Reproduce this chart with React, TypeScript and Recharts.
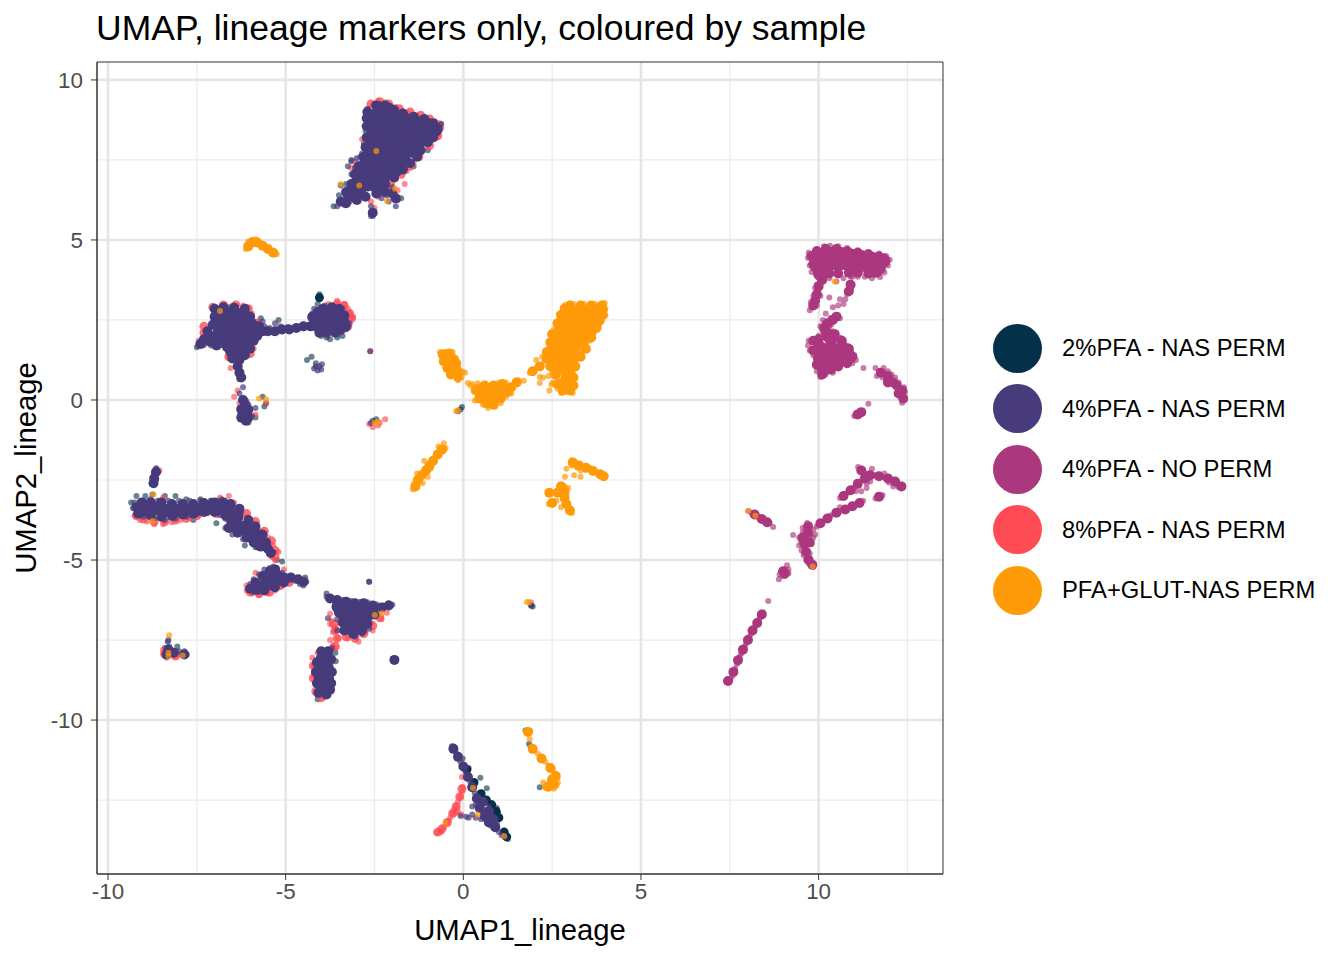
import { ScatterChart, Scatter, XAxis, YAxis, CartesianGrid, ReferenceArea } from 'recharts';

type Pt = [number, number];

const sampleNames = ['2%PFA - NAS PERM', '4%PFA - NAS PERM', '4%PFA - NO PERM', '8%PFA - NAS PERM', 'PFA+GLUT-NAS PERM'];
const xTicks = [-10, -5, 0, 5, 10];
const yTicks = [-10, -5, 0, 5, 10];
const xMinor = [-7.5, -2.5, 2.5, 7.5, 12.5];
const yMinor = [-12.5, -7.5, -2.5, 2.5, 7.5];

const COLORS = ['#05304a', '#473b7b', '#ab387e', '#ff4b53', '#ff9a08'];
const X_DOMAIN: [number, number] = [-10.31, 13.5];
const Y_DOMAIN: [number, number] = [-14.81, 10.56];

// 2% PFA: thin fringe of single cells
const pfa2Arms: Pt[] = [
  [0.1, -11.55], [0.3, -11.95], [0.5, -12.3], [0.65, -12.5], [0.8, -12.65], [0.92, -12.85], [1.0, -13.05], [1.15, -13.5], [1.22, -13.65], [-4.05, 3.2],
];
const pfa2Points: Pt[] = [
  [-3.65, 6.05], [-3.5, 6.4], [-3.3, 6.75], [-3.15, 7.05], [-3.0, 7.3], [-2.9, 7.6], [-2.8, 8.0], [-2.75, 8.4], [-2.7, 8.8], [-1.9, 9.15],
  [-3.45, 6.7], [-3.15, 7.45], [-1.75, 6.3], [-2.05, 6.45], [-2.6, 5.75], [-2.55, 5.9], [-1.4, 7.3], [-1.0, 7.8],
  [-4.05, 3.3], [-4.05, 3.15], [-4.1, 3.0], [-4.3, 2.55], [-4.35, 2.35], [-4.0, 2.0], [-3.75, 1.9], [-3.55, 1.95], [-3.4, 2.0], [-3.85, 1.95],
  [-4.4, 1.25], [-4.27, 1.35], [-4.15, 1.15], [-7.5, 1.65], [-7.35, 1.7], [-7.1, 1.7], [-5.7, 2.55], [-5.2, 2.5], [-6.05, -0.7], [-5.85, -0.55], [-5.6, -0.2], [-5.55, -0.1], [-5.65, 0.1],
  [-6.35, 0.85], [-6.3, 0.65], [-6.6, 2.9], [-6.0, 2.7], [-2.55, -0.65], [-2.45, -0.6],
  [-8.95, -3.0], [-8.75, -2.95], [-8.4, -3.0], [-8.1, -3.0], [-7.8, -3.1], [-7.4, -3.1], [-7.1, -3.15], [-6.9, -3.15], [-7.6, -3.75], [-6.95, -3.85], [-9.35, -3.2], [-9.2, -3.0],
  [-8.7, -2.65], [-6.15, -4.55], [-5.85, -4.6], [-5.6, -4.5], [-5.25, -5.0], [-5.1, -5.05], [-5.35, -5.2], [-4.45, -5.55], [-4.5, -5.8], [-4.75, -5.65],
  [-3.85, -6.05], [-3.75, -6.25], [-2.0, -6.4], [-2.1, -6.35], [-2.65, -5.68], [-3.6, -7.9], [-3.59, -8.16], [-3.75, -9.05], [-4.1, -9.35],
  [-1.92, -8.15], [-8.3, -7.5], [-8.05, -7.7], [-7.85, -7.85], [-8.4, -7.75],
  [0.48, -11.8], [0.55, -12.44], [0.66, -12.13], [0.8, -12.6], [0.7, -12.55], [0.8, -12.75], [0.94, -12.75], [0.98, -12.9], [0.85, -12.85], [0.94, -13.03], [0.15, -11.5], [-0.02, -11.2], [1.25, -13.72],
  [1.9, -6.42], [1.95, -6.45], [-0.04, -0.22], [-0.08, -0.3], [1.75, -10.33], [2.15, -12.1], [1.85, -10.75],
];

// 8% PFA: the red rim around the dense clusters and the lower-centre arm
const pfa8Arms: Pt[] = [
  [-2.6, 9.25], [-2.35, 9.32], [-2.1, 9.25], [-1.8, 9.1], [-1.5, 9.0], [-1.2, 8.9], [-0.95, 8.78], [-0.68, 8.6], [-0.72, 8.25], [-0.95, 7.95], [-1.25, 7.6], [-1.5, 7.3], [-1.75, 7.05], [-2.05, 6.75], [-2.3, 6.5],
  [-9.2, -3.62], [-9.0, -3.72], [-8.7, -3.8], [-8.4, -3.8], [-8.1, -3.75], [-7.8, -3.7], [-7.5, -3.62], [-6.1, -3.55], [-5.85, -3.8], [-5.6, -4.1], [-5.4, -4.4], [-5.3, -4.7], [-5.3, -4.9], [-6.0, -6.0], [-5.75, -6.05], [-5.45, -6.0], [-5.15, -5.8], [-4.9, -5.7],
  [-3.65, -7.0], [-3.6, -7.2], [-3.55, -7.45], [-3.6, -7.7], [-3.3, -7.4], [-3.05, -7.45], [-2.8, -7.3], [-2.55, -7.05], [-2.35, -6.8], [-4.22, -8.3], [-4.22, -8.7], [-4.15, -9.1], [-4.0, -9.3],
  [-7.05, 2.9], [-6.75, 2.97], [-6.4, 2.97], [-6.05, 2.85], [-5.85, 2.4], [-7.3, 2.1], [-7.3, 2.3], [-6.6, 1.35], [-6.0, 1.45], [-3.55, 3.0], [-3.35, 2.95], [-3.2, 2.7], [-3.15, 2.55], [-3.25, 2.3],
  [-0.04, -12.15], [-0.1, -12.4], [-0.2, -12.7], [-0.3, -12.92], [-0.45, -13.2], [-0.6, -13.4], [-0.72, -13.5], [-8.4, -7.9], [-8.1, -8.0],
];
const pfa8Points: Pt[] = [
  [-2.75, 9.0], [-2.55, 9.2], [-2.4, 9.35], [-2.2, 9.3], [-2.05, 9.15], [-1.8, 9.05], [-1.55, 8.95], [-1.3, 8.9], [-1.05, 8.8], [-0.8, 8.7], [-0.62, 8.5], [-0.75, 8.2], [-1.0, 7.95], [-1.2, 7.7], [-1.4, 7.4], [-1.6, 7.15], [-1.9, 6.9], [-2.15, 6.6], [-2.4, 6.35], [-2.6, 6.2], [-2.95, 6.2], [-3.2, 6.25], [-2.0, 6.5], [-1.85, 6.55],
  [-2.85, 8.15], [-3.05, 7.45], [-3.15, 7.25], [-2.5, 6.0], [-1.65, 6.75],
  [-7.0, 2.9], [-6.8, 2.95], [-6.5, 2.95], [-6.2, 2.95], [-5.95, 2.7], [-5.8, 2.45], [-5.6, 2.2], [-7.2, 2.2], [-7.3, 1.95], [-7.45, 1.85], [-6.9, 1.65], [-6.6, 1.35], [-6.15, 1.45], [-5.9, 1.6], [-6.55, 1.0], [-6.35, 0.3], [-6.45, 0.1], [-6.3, -0.1], [-5.55, -0.1], [-5.85, -0.45], [-5.2, 2.2], [-4.9, 2.2],
  [-3.8, 3.0], [-3.55, 3.1], [-3.35, 3.0], [-3.25, 2.85], [-3.2, 2.55], [-3.1, 2.6], [-3.3, 2.3], [-3.45, 2.1], [-4.3, 2.6], [-3.2, 2.75],
  [-8.65, -2.15], [-8.55, -2.2], [-8.45, -3.05], [-9.25, -3.6], [-9.1, -3.75], [-8.9, -3.8], [-8.7, -3.88], [-8.45, -3.88], [-8.2, -3.82], [-7.95, -3.75], [-7.7, -3.7], [-7.45, -3.6], [-7.2, -3.55], [-6.85, -3.05], [-6.6, -3.0], [-6.45, -3.2], [-6.3, -3.4], [-6.1, -3.65], [-5.9, -3.85], [-5.7, -4.1], [-5.5, -4.3], [-5.35, -4.55], [-5.2, -4.75], [-5.3, -5.0], [-5.4, -4.9], [-5.5, -4.7], [-5.7, -4.45], [-6.95, -3.6], [-6.7, -3.7], [-6.65, -3.95],
  [-6.1, -5.95], [-5.95, -6.05], [-5.75, -6.1], [-5.5, -6.05], [-5.3, -5.95], [-5.1, -5.8], [-4.9, -5.65], [-5.05, -5.3], [-6.1, -5.8], [-5.85, -5.4],
  [-3.7, -6.9], [-3.6, -7.1], [-3.67, -7.25], [-3.53, -7.44], [-3.67, -7.66], [-3.75, -7.5], [-3.6, -7.75], [-2.75, -7.25], [-2.95, -7.55], [-3.0, -7.35], [-3.25, -7.45], [-2.55, -7.2], [-2.3, -6.85], [-2.6, -6.95], [-2.15, -6.65], [-3.75, -6.68], [-3.75, -7.0],
  [-4.2, -8.3], [-4.22, -8.6], [-4.15, -8.9], [-4.1, -9.2], [-3.95, -9.3], [-4.25, -8.05], [-4.1, -7.9],
  [-8.45, -7.95], [-8.35, -8.05], [-8.1, -8.0], [-8.15, -7.85], [-7.95, -7.95], [-8.45, -7.8],
  [-2.65, -0.75], [-2.55, -0.85], [-2.4, -0.8], [-2.35, -0.7], [-2.2, -0.6], [-2.62, 1.52],
  [-0.04, -11.78], [-0.02, -12.1], [-0.04, -12.25], [-0.1, -12.4], [-0.15, -12.55], [-0.2, -12.7], [-0.27, -12.8], [-0.3, -12.92], [-0.37, -13.05], [-0.46, -13.22], [-0.55, -13.35], [-0.65, -13.45], [-0.75, -13.52], [-0.62, -13.5], [-0.15, -12.85], [-0.05, -12.95], [-0.2, -12.9], [-0.42, -13.15],
  [-0.28, -10.82], [1.88, -10.35], [1.9, -6.32],
];

// 4% PFA, no perm: dense centres, then the loose arms and the thin diagonal
const noPermCore: Pt[] = [
  [10.0, 4.5], [10.3, 4.55], [10.6, 4.55], [10.9, 4.5], [11.2, 4.45], [11.5, 4.4], [11.8, 4.35],
  [9.95, 4.2], [10.25, 4.2], [10.55, 4.25], [10.85, 4.25], [11.15, 4.2], [11.45, 4.15], [10.05, 3.95], [11.6, 4.05],
  [10.35, 1.95], [10.05, 1.6], [10.35, 1.6], [10.65, 1.6], [10.05, 1.3], [10.35, 1.3], [10.65, 1.3], [10.85, 1.35], [10.15, 1.0],
];
const noPermArms: Pt[] = [
  [9.8, 4.5], [9.85, 4.25], [9.95, 4.65], [10.2, 4.72], [10.5, 4.72], [10.8, 4.65], [11.1, 4.6], [11.4, 4.55], [11.7, 4.48], [11.88, 4.35], [11.75, 4.1], [11.4, 3.95], [11.1, 3.98], [10.85, 3.98], [10.55, 3.95], [10.3, 3.95], [10.1, 3.75],
  [10.0, 3.55], [9.95, 3.3], [9.9, 3.1], [9.85, 2.95], [10.9, 3.6], [10.85, 3.4],
  [10.4, 2.5], [10.25, 2.4], [10.15, 2.25], [10.25, 2.1], [10.5, 2.6],
  [9.85, 1.85], [9.85, 1.55], [10.0, 1.9], [10.2, 2.0], [10.45, 2.05], [10.65, 1.85], [10.85, 1.6], [10.95, 1.35], [10.8, 1.15], [10.55, 1.05], [10.35, 0.95], [10.1, 0.8], [9.95, 1.1],
  [11.75, 0.85], [11.95, 0.75], [12.1, 0.55], [12.2, 0.45], [12.35, 0.3], [12.38, 0.05], [11.95, 0.55], [12.25, 0.2], [11.1, -0.45], [11.2, -0.38],
  [7.45, -8.78], [7.6, -8.5], [7.73, -8.13], [7.87, -7.8], [8.01, -7.5], [8.14, -7.2], [8.27, -6.97], [8.4, -6.7],
  [9.0, -5.35], [9.05, -5.42],
  [9.55, -4.3], [9.7, -4.15], [9.7, -3.95], [9.6, -4.5], [9.75, -4.45], [9.65, -4.75], [9.72, -5.0], [9.82, -5.15],
  [10.05, -3.85], [10.25, -3.7], [10.5, -3.52], [10.75, -3.42], [10.95, -3.32], [11.15, -3.22],
  [10.7, -3.0], [10.9, -2.82], [11.1, -2.62], [11.3, -2.45], [11.2, -2.2], [11.45, -2.35], [11.7, -2.38], [11.95, -2.45], [12.15, -2.55], [12.33, -2.7], [11.7, -3.02],
  [8.2, -3.58], [8.4, -3.72], [8.55, -3.82],
];
const noPermPoints: Pt[] = [
  [9.7, 4.44], [9.72, 4.6], [9.75, 4.2], [9.8, 4.0], [9.95, 4.72], [10.15, 4.8], [10.32, 4.82], [10.55, 4.8], [10.8, 4.75], [11.1, 4.68], [11.4, 4.62], [11.7, 4.58], [11.9, 4.5], [12.0, 4.38], [11.95, 4.2], [11.85, 3.98], [11.73, 3.84], [11.5, 3.8], [11.3, 3.85], [11.1, 3.85], [10.9, 3.85], [10.7, 3.8], [10.5, 3.7], [10.3, 3.8], [10.85, 3.65], [10.9, 3.45], [10.8, 3.3], [10.75, 3.15], [10.7, 3.0], [10.6, 3.15], [10.55, 2.95], [10.4, 2.9], [10.3, 3.2],
  [10.15, 3.85], [10.05, 3.7], [9.95, 3.6], [9.98, 3.4], [9.9, 3.5], [9.85, 3.25], [9.9, 3.1], [9.78, 3.05], [9.8, 2.9], [9.75, 2.8], [9.95, 2.95], [10.05, 3.25],
  [10.33, 2.56], [10.18, 2.41], [10.45, 2.62], [10.55, 2.65], [10.6, 2.55], [10.4, 2.45], [10.3, 2.3], [10.12, 2.15], [10.2, 2.15], [10.35, 2.35], [10.05, 2.3], [10.25, 2.0], [10.12, 2.5], [10.2, 2.7],
  [9.72, 1.85], [9.7, 1.7], [9.75, 1.55], [9.85, 1.4], [9.85, 1.9], [10.0, 2.0], [10.15, 2.1], [10.4, 2.15], [10.5, 2.1], [10.6, 1.95], [10.7, 1.85], [10.8, 1.7], [10.9, 1.55], [11.0, 1.4], [11.05, 1.25], [10.95, 1.15], [10.8, 1.1], [10.6, 1.05], [10.4, 0.85], [10.2, 0.8], [10.05, 0.72], [9.95, 0.9], [9.9, 1.1],
  [11.26, 1.0], [11.6, 1.0], [11.64, 0.75], [11.7, 0.9], [11.83, 1.0], [11.9, 0.65], [11.95, 0.9], [12.05, 0.8], [12.05, 0.55], [12.15, 0.7], [12.15, 0.45], [12.25, 0.55], [12.3, 0.35], [12.4, 0.4], [12.43, 0.25], [12.38, 0.1], [12.35, -0.09], [12.42, 0.0], [11.8, 0.7], [11.75, 0.85],
  [11.08, -0.47], [11.15, -0.42], [11.23, -0.37], [11.0, -0.5], [11.4, -0.12], [10.95, 3.85],
  [7.42, -8.81], [7.47, -8.78], [7.52, -8.72], [7.57, -8.62], [7.6, -8.5], [7.65, -8.4], [7.7, -8.25], [7.73, -8.13], [7.78, -8.02], [7.82, -7.92], [7.87, -7.8], [7.92, -7.7], [7.96, -7.6], [8.01, -7.5], [8.05, -7.4], [8.1, -7.3], [8.14, -7.2], [8.2, -7.1], [8.27, -6.97], [8.3, -6.88], [8.35, -6.8], [8.4, -6.7], [8.44, -6.63], [8.58, -6.28],
  [8.9, -5.45], [8.98, -5.5], [9.0, -5.41], [9.05, -5.3], [9.11, -5.16], [9.15, -5.3], [9.15, -5.42], [9.05, -5.5], [8.88, -5.6],
  [9.28, -4.22], [9.45, -4.55], [9.52, -4.7], [9.58, -4.85], [9.65, -5.0], [9.72, -5.1], [9.82, -5.16], [9.85, -5.22], [9.6, -4.6], [9.75, -4.8], [9.5, -4.4], [9.62, -4.47], [9.8, -4.5], [9.85, -4.3], [9.7, -4.06], [9.85, -4.05], [9.55, -4.15], [9.6, -4.3], [9.75, -4.25], [9.9, -4.2], [9.45, -4.3], [9.68, -3.84], [9.75, -3.9], [9.65, -4.0], [9.55, -4.0],
  [9.95, -3.95], [10.0, -3.9], [10.1, -3.81], [10.2, -3.72], [10.3, -3.65], [10.46, -3.53], [10.55, -3.48], [10.65, -3.45], [10.75, -3.4], [10.83, -3.38], [10.93, -3.32], [11.03, -3.28], [11.17, -3.22], [11.25, -3.15], [10.6, -3.35], [10.35, -3.6],
  [10.6, -3.06], [10.72, -2.95], [10.82, -2.9], [10.94, -2.81], [11.02, -2.72], [11.12, -2.62], [11.23, -2.5], [11.3, -2.4], [11.05, -2.85], [11.35, -2.6], [11.4, -2.45], [11.45, -2.55], [11.11, -2.09], [11.2, -2.15], [11.25, -2.25], [11.35, -2.3], [11.5, -2.35], [11.6, -2.34], [11.75, -2.4], [11.9, -2.45], [12.07, -2.5], [12.2, -2.58], [12.3, -2.65], [12.38, -2.72], [12.25, -2.72], [12.1, -2.7], [11.98, -2.58], [11.5, -2.15], [11.35, -2.75], [11.2, -2.85], [11.85, -2.3], [11.68, -3.03], [11.6, -3.08], [11.8, -2.98],
  [8.02, -3.47], [8.1, -3.52], [8.18, -3.58], [8.27, -3.65], [8.35, -3.7], [8.45, -3.75], [8.55, -3.81], [8.62, -3.85], [8.72, -3.97],
];

// 4% PFA, NAS perm: dense centres first, single cells after
const pfa4Core: Pt[] = [
  [-2.35, 9.1], [-2.1, 9.05],
  [-2.55, 8.85], [-2.25, 8.85], [-1.95, 8.8], [-1.65, 8.75], [-1.35, 8.65], [-1.05, 8.6],
  [-2.55, 8.55], [-2.25, 8.55], [-1.95, 8.5], [-1.65, 8.45], [-1.35, 8.4], [-1.05, 8.35], [-0.8, 8.45],
  [-2.55, 8.25], [-2.25, 8.25], [-1.95, 8.2], [-1.65, 8.15], [-1.35, 8.1], [-1.15, 8.15],
  [-2.55, 7.95], [-2.25, 7.95], [-1.95, 7.9], [-1.65, 7.85], [-1.45, 7.8],
  [-2.55, 7.65], [-2.25, 7.65], [-1.95, 7.6], [-1.7, 7.5],
  [-2.75, 7.35], [-2.45, 7.35], [-2.15, 7.3], [-1.9, 7.2],
  [-2.85, 7.05], [-2.55, 7.05], [-2.25, 7.0],
  [-3.0, 6.75], [-2.7, 6.75], [-2.45, 6.7],
  [-3.2, 6.45], [-2.95, 6.5],
  [-6.75, 2.7], [-6.45, 2.7], [-6.2, 2.65],
  [-6.8, 2.4], [-6.5, 2.4], [-6.2, 2.4], [-6.0, 2.35],
  [-6.85, 2.1], [-6.55, 2.1], [-6.25, 2.1], [-5.95, 2.15],
  [-7.1, 1.9], [-6.75, 1.85], [-6.45, 1.8], [-6.15, 1.85],
  [-6.5, 1.55], [-6.3, 1.55],
  [-3.85, 2.7], [-3.6, 2.7], [-4.0, 2.45], [-3.7, 2.45], [-3.45, 2.45], [-4.0, 2.25], [-3.7, 2.25], [-3.5, 2.25],
  [-9.05, -3.42], [-8.75, -3.4], [-8.45, -3.45], [-8.15, -3.45], [-7.85, -3.42], [-7.55, -3.42], [-7.25, -3.38], [-6.95, -3.38], [-6.65, -3.4],
  [-6.4, -3.65], [-6.45, -3.9], [-6.15, -4.0], [-5.9, -4.2], [-5.7, -4.5],
  [-5.8, -5.85], [-5.5, -5.72], [-5.25, -5.55],
  [-3.5, -6.45], [-3.2, -6.5], [-2.9, -6.55], [-2.6, -6.55], [-3.3, -6.8], [-3.0, -6.85], [-2.75, -6.75], [-3.15, -7.1], [-2.95, -7.1],
  [-3.95, -8.1], [-4.0, -8.4], [-3.85, -8.4], [-4.0, -8.7], [-3.85, -8.7], [-3.95, -8.95],
  [-6.15, -0.45],
];
const pfa4Arms: Pt[] = [
  [-2.7, 9.0], [-2.45, 9.2], [-2.2, 9.2], [-1.95, 9.05], [-1.7, 8.95], [-1.4, 8.85], [-1.1, 8.78], [-0.85, 8.65], [-0.72, 8.45], [-0.85, 8.2], [-1.0, 8.05], [-1.2, 7.8], [-1.3, 7.6], [-1.5, 7.4], [-1.7, 7.2], [-1.95, 6.95], [-2.2, 6.75], [-2.45, 6.45], [-2.75, 6.35], [-3.0, 6.25], [-3.3, 6.15], [-3.45, 6.2], [-3.3, 6.5], [-3.15, 6.75], [-3.05, 7.05], [-2.95, 7.3], [-2.8, 7.6], [-2.75, 7.9], [-2.72, 8.2], [-2.72, 8.55], [-2.72, 8.8], [-2.0, 6.45], [-1.9, 6.3], [-2.2, 6.5], [-2.55, 5.85],
  [-7.0, 2.85], [-6.75, 2.9], [-6.45, 2.88], [-6.15, 2.85], [-6.0, 2.6], [-7.0, 2.6], [-7.05, 2.35], [-7.2, 2.15], [-7.3, 1.9], [-7.4, 1.75], [-5.75, 2.3], [-5.65, 2.15], [-5.8, 2.0], [-5.9, 1.85], [-6.0, 1.6], [-6.15, 1.4], [-6.3, 1.25], [-6.5, 1.3], [-6.65, 1.65], [-6.95, 1.7],
  [-5.5, 2.15], [-5.3, 2.15], [-5.1, 2.2], [-4.9, 2.2], [-4.7, 2.25], [-4.5, 2.3], [-4.3, 2.3],
  [-6.35, 1.05], [-6.3, 0.85], [-6.25, 0.7], [-6.2, 0.0], [-6.15, -0.15], [-6.25, -0.3], [-6.05, -0.3], [-6.25, -0.55], [-6.05, -0.55], [-6.12, -0.65],
  [-4.25, 2.6], [-4.2, 2.35], [-4.1, 2.75], [-3.95, 2.85], [-3.7, 2.9], [-3.5, 2.85], [-3.35, 2.65], [-3.35, 2.45], [-3.3, 2.3], [-3.6, 2.1], [-3.85, 2.1], [-4.05, 2.1],
  [-9.2, -3.35], [-9.15, -3.55], [-9.05, -3.2], [-8.8, -3.2], [-8.8, -3.6], [-8.5, -3.2], [-8.5, -3.65], [-8.2, -3.25], [-8.2, -3.62], [-7.9, -3.25], [-7.9, -3.58], [-7.6, -3.25], [-7.6, -3.55], [-7.3, -3.22], [-7.3, -3.5], [-7.0, -3.2], [-7.0, -3.5], [-6.75, -3.2], [-6.55, -3.25], [-6.3, -3.4], [-6.7, -3.6], [-6.55, -3.75], [-6.6, -4.0], [-6.35, -4.15], [-6.1, -4.3], [-6.05, -3.75], [-5.85, -3.95], [-5.65, -4.2], [-5.9, -4.45], [-5.55, -4.45], [-5.5, -4.65], [-5.42, -4.78],
  [-8.65, -2.25], [-8.7, -2.45], [-8.72, -2.6],
  [-6.0, -5.9], [-5.85, -5.7], [-5.65, -5.5], [-5.45, -5.35], [-5.3, -5.3], [-5.6, -5.95], [-5.3, -5.85], [-5.05, -5.55], [-5.05, -5.7], [-4.85, -5.55], [-4.65, -5.6], [-4.5, -5.68],
  [-3.75, -6.2], [-3.55, -6.25], [-3.3, -6.3], [-3.05, -6.35], [-2.8, -6.35], [-2.55, -6.42], [-2.3, -6.48], [-2.1, -6.42], [-3.5, -6.65], [-3.4, -6.95], [-3.35, -7.2], [-3.1, -7.3], [-2.85, -7.2], [-2.7, -7.0], [-2.5, -6.7],
  [-4.0, -7.85], [-3.8, -7.85], [-4.12, -8.2], [-3.72, -8.1], [-4.15, -8.5], [-3.7, -8.5], [-4.12, -8.85], [-3.72, -8.85], [-4.08, -9.15], [-3.85, -9.2], [-3.75, -9.05],
  [-1.94, -8.12], [-8.3, -7.8], [-8.35, -7.95], [-8.15, -7.9], [-7.85, -7.95],
  [-0.28, -10.9], [-0.15, -11.15], [0.0, -11.45], [0.13, -11.78], [0.25, -12.1], [0.38, -12.45], [0.46, -12.75], [0.6, -13.0], [0.72, -13.2], [0.9, -13.35], [0.55, -12.55], [0.72, -12.85], [0.85, -13.1],
];
const pfa4Points: Pt[] = [
  [-3.55, 6.05], [-3.45, 6.2], [-3.35, 6.1], [-3.2, 6.2], [-2.55, 5.75], [-2.55, 5.9], [-2.6, 6.05], [-2.3, 6.3], [-2.15, 6.4], [-2.1, 6.2], [-1.95, 6.35], [-1.85, 6.25], [-2.0, 6.65], [-1.9, 6.05], [-3.0, 7.55], [-3.15, 7.5], [-3.25, 7.3], [-2.85, 7.7], [-3.05, 7.25], [-2.7, 9.1], [-2.5, 9.25], [-0.62, 8.62], [-0.7, 8.55], [-0.95, 8.7], [-1.3, 8.8],
  [-7.45, 1.7], [-7.3, 1.72], [-7.2, 1.8], [-6.95, 1.7], [-7.3, 1.9], [-5.75, 2.2], [-5.6, 2.1], [-5.5, 2.15], [-5.35, 2.1], [-5.25, 2.2], [-5.1, 2.15], [-5.0, 2.2], [-4.85, 2.2], [-4.75, 2.25], [-4.6, 2.28], [-4.5, 2.3], [-4.4, 2.3], [-4.3, 2.35], [-5.45, 2.25], [-5.15, 2.3], [-4.95, 2.28], [-5.65, 2.45], [-5.6, 2.3], [-5.3, 2.4], [-4.2, 2.25], [-4.25, 2.45], [-4.25, 2.7], [-4.2, 2.85], [-3.2, 2.4], [-3.35, 2.65], [-3.4, 2.85], [-3.9, 2.95], [-3.3, 2.2],
  [-6.4, 1.25], [-6.35, 1.05], [-6.28, 0.9], [-6.3, 0.75], [-6.25, 0.7], [-6.2, 0.4], [-6.3, 0.2], [-6.2, 0.05], [-6.1, -0.05], [-6.05, -0.15], [-6.3, -0.25], [-6.25, -0.6], [-6.05, -0.62], [-6.1, -0.68], [-6.0, -0.3], [-5.95, -0.5], [-5.85, -0.25], [-4.2, 0.98], [-4.1, 0.92], [-4.0, 0.95], [-4.05, 1.05], [-3.98, 1.12], [-4.15, 1.05],
  [-8.64, -2.13], [-8.7, -2.3], [-8.72, -2.45], [-8.74, -2.6], [-8.6, -2.25], [-8.65, -2.5], [-9.3, -3.38], [-9.25, -3.2], [-9.2, -3.55], [-9.0, -3.15], [-8.8, -3.1], [-8.6, -3.15], [-8.3, -3.15], [-8.0, -3.15], [-7.7, -3.15], [-7.4, -3.15], [-7.1, -3.15], [-6.8, -3.1], [-6.55, -3.2], [-6.45, -3.35], [-6.25, -3.5], [-6.05, -3.75], [-5.85, -4.0], [-5.7, -4.15], [-6.7, -3.7], [-6.85, -3.6], [-6.7, -4.0], [-6.5, -4.2], [-6.2, -4.35], [-5.95, -4.45], [-5.55, -4.4], [-5.5, -4.6], [-5.45, -4.75], [-5.35, -4.75], [-7.1, -3.2], [-9.0, -3.65], [-8.7, -3.7], [-8.4, -3.75], [-8.1, -3.7], [-7.8, -3.65], [-7.5, -3.55],
  [-6.05, -5.92], [-6.0, -5.75], [-5.9, -5.6], [-5.75, -5.45], [-5.6, -5.3], [-5.45, -5.25], [-5.25, -5.25], [-5.1, -5.4], [-5.0, -5.5], [-4.85, -5.55], [-4.7, -5.6], [-4.55, -5.65], [-4.42, -5.68], [-4.6, -5.75], [-5.6, -6.0], [-5.35, -5.85], [-5.05, -5.65], [-5.9, -6.0],
  [-3.85, -6.15], [-3.75, -6.2], [-3.6, -6.22], [-3.4, -6.25], [-3.15, -6.28], [-2.9, -6.3], [-2.7, -6.32], [-2.45, -6.38], [-2.25, -6.42], [-2.05, -6.42], [-2.3, -6.55], [-2.5, -6.7], [-3.5, -6.65], [-3.55, -6.85], [-3.4, -7.0], [-3.3, -7.25], [-3.05, -7.4], [-2.85, -7.3], [-2.65, -7.15], [-3.81, -6.82], [-3.55, -7.2], [-3.7, -7.75], [-3.85, -7.8], [-3.98, -7.85], [-3.75, -8.0], [-4.15, -8.15], [-4.18, -8.5], [-4.12, -8.85], [-4.08, -9.15], [-3.9, -9.25], [-3.75, -9.0], [-3.72, -8.5], [-3.72, -8.2], [-1.96, -8.1], [-1.92, -8.15], [-2.65, -5.68],
  [-8.32, -7.55], [-8.28, -7.7], [-8.25, -7.85], [-8.35, -7.88], [-8.2, -7.95], [-8.1, -7.85], [-8.0, -7.85], [-7.85, -7.92], [-7.79, -7.95], [-8.4, -8.0], [-8.3, -8.0], [-2.6, -0.72], [-2.62, 1.52], [-0.15, -0.35], [1.92, -6.42],
  [-0.32, -10.82], [-0.25, -10.85], [-0.22, -10.98], [-0.15, -11.15], [-0.08, -11.3], [0.0, -11.45], [0.07, -11.62], [0.13, -11.78], [0.2, -11.95], [0.25, -12.1], [0.32, -12.28], [0.38, -12.45], [0.42, -12.62], [0.46, -12.81], [0.55, -12.95], [0.62, -13.1], [0.69, -13.22], [0.78, -13.3], [0.88, -13.4], [1.0, -13.5], [1.08, -13.6], [1.17, -13.66], [0.5, -12.6], [0.6, -12.8], [0.72, -12.95], [0.82, -13.15], [0.95, -13.25], [0.35, -12.65], [0.25, -12.95], [0.15, -13.05], [0.35, -13.05], [0.5, -13.1], [0.08, -13.02], [0.25, -12.7], [-0.08, -13.0], [0.6, -12.55], [0.72, -12.7],
];

// PFA + glutaraldehyde
const glutCore: Pt[] = [
  [3.05, 2.75], [3.35, 2.75], [3.65, 2.75], [3.85, 2.8],
  [2.9, 2.45], [3.2, 2.45], [3.5, 2.45], [3.75, 2.5],
  [2.75, 2.15], [3.05, 2.15], [3.35, 2.15], [3.55, 2.15],
  [2.65, 1.85], [2.95, 1.85], [3.2, 1.85], [3.35, 1.9],
  [2.55, 1.55], [2.85, 1.55], [3.1, 1.6], [2.6, 1.3], [2.85, 1.3], [3.05, 1.3],
  [2.85, 1.0], [2.95, 0.75], [2.85, 0.5],
  [0.55, 0.15], [0.8, 0.05], [0.85, 0.25], [0.55, 0.3], [1.1, 0.3],
  [-0.45, 1.25], [-0.28, 1.0],
];
const glutArms: Pt[] = [
  [3.0, 2.95], [3.3, 2.95], [3.6, 2.95], [3.9, 2.95], [3.92, 2.65], [3.75, 2.25], [3.6, 1.95], [3.45, 1.6], [3.3, 1.35], [3.15, 1.05], [3.1, 0.7], [3.1, 0.45], [3.0, 0.3], [2.8, 0.3], [2.65, 0.5], [2.6, 0.8], [2.45, 1.05], [2.35, 1.3], [2.35, 1.5], [2.45, 1.8], [2.5, 2.05], [2.65, 2.4], [2.75, 2.65], [2.85, 2.85], [2.7, 0.95], [1.95, 0.9], [2.15, 1.05],
  [0.35, 0.3], [0.45, 0.05], [0.65, -0.1], [0.85, -0.15], [1.05, 0.05], [1.25, 0.25], [1.35, 0.4], [1.1, 0.5], [0.85, 0.45], [0.6, 0.45], [1.5, 0.55],
  [-0.58, 1.42], [-0.4, 1.45], [-0.3, 1.3], [-0.55, 1.2], [-0.2, 1.15], [-0.45, 1.0], [-0.15, 0.9], [-0.35, 0.8], [-0.15, 0.72],
  [-6.05, 4.8], [-5.95, 4.92], [-5.8, 4.92], [-5.65, 4.82], [-5.5, 4.72], [-5.35, 4.6],
  [-1.35, -2.7], [-1.28, -2.5], [-1.18, -2.35], [-1.05, -2.2], [-0.95, -2.05], [-0.85, -1.9], [-0.72, -1.7], [-0.6, -1.55],
  [3.08, -1.95], [3.25, -2.05], [3.45, -2.12], [3.65, -2.22], [3.85, -2.32], [3.95, -2.38],
  [2.75, -2.7], [2.85, -2.85], [2.65, -2.9], [2.85, -3.05], [2.9, -3.25], [3.0, -3.45], [2.5, -3.22], [2.42, -2.9],
  [1.95, -10.9], [2.2, -11.2], [2.45, -11.5], [2.6, -11.75], [2.55, -12.0], [2.38, -12.08], [2.5, -11.85], [1.82, -10.37],
];
const glutPoints: Pt[] = [
  [2.86, 2.97], [3.1, 3.0], [3.4, 3.0], [3.7, 3.0], [3.98, 3.03], [4.0, 2.85], [4.0, 2.65], [3.9, 2.45], [3.8, 2.3], [3.65, 2.1], [3.55, 1.85], [3.45, 1.7], [3.3, 1.55], [3.2, 1.3], [3.15, 1.1], [3.08, 0.85], [3.1, 0.6], [3.12, 0.4], [3.08, 0.22], [2.9, 0.25], [2.75, 0.22], [2.65, 0.35], [2.52, 0.55], [2.55, 0.75], [2.7, 0.55], [2.65, 0.75], [2.5, 0.85], [2.4, 1.05], [2.28, 1.2], [2.22, 1.35], [2.3, 1.45], [2.42, 1.7], [2.55, 1.95], [2.55, 2.2], [2.65, 2.45], [2.7, 2.7], [2.48, 0.48], [1.87, 0.84], [2.0, 0.95], [2.1, 1.05], [2.15, 0.72], [2.15, 0.53], [2.25, 0.7], [2.4, 0.75], [2.42, 0.3], [2.6, 0.5], [2.05, 1.25],
  [-0.66, 1.5], [-0.6, 1.35], [-0.52, 1.5], [-0.4, 1.48], [-0.3, 1.5], [-0.2, 1.3], [-0.15, 1.1], [-0.6, 1.2], [-0.5, 1.05], [-0.45, 0.95], [-0.35, 0.8], [-0.2, 0.7], [-0.1, 0.8], [-0.02, 0.88], [0.05, 0.85], [-0.05, 0.7], [-0.15, 0.62],
  [0.13, 0.53], [0.25, 0.5], [0.35, 0.4], [0.4, 0.52], [0.2, 0.45], [0.32, -0.02], [0.42, 0.0], [0.55, -0.15], [0.7, -0.25], [0.9, -0.2], [1.05, -0.1], [1.2, 0.1], [1.35, 0.2], [1.35, 0.4], [1.45, 0.5], [1.55, 0.62], [1.7, 0.6], [1.2, 0.55], [1.0, 0.55], [0.9, 0.48], [0.7, 0.45],
  [-6.12, 4.72], [-6.1, 4.85], [-6.05, 4.95], [-5.95, 5.0], [-5.85, 5.02], [-5.8, 4.9], [-5.7, 4.88], [-5.6, 4.82], [-5.5, 4.72], [-5.4, 4.65], [-5.32, 4.58], [-5.25, 4.55], [-6.0, 4.85], [-5.9, 4.9],
  [-1.42, -2.8], [-1.38, -2.62], [-1.3, -2.7], [-1.25, -2.5], [-1.2, -2.42], [-1.12, -2.3], [-1.05, -2.2], [-1.0, -2.05], [-0.92, -2.15], [-0.85, -1.95], [-0.8, -1.8], [-0.7, -1.65], [-0.6, -1.55], [-0.5, -1.5], [-0.55, -1.35], [-0.7, -1.45], [-1.1, -1.9], [-1.3, -2.3], [-1.0, -2.4], [-1.15, -2.6],
  [3.06, -1.88], [3.15, -1.95], [3.28, -2.0], [3.42, -2.08], [3.55, -2.12], [3.7, -2.2], [3.85, -2.28], [3.98, -2.4], [3.9, -2.38], [3.2, -2.1], [3.05, -2.05], [3.12, -2.35], [2.9, -2.15], [2.86, -2.4], [3.3, -2.2], [3.3, -2.4], [2.75, -2.65], [2.85, -2.7], [2.95, -2.75], [2.65, -2.85], [2.78, -2.88], [2.9, -2.95], [2.39, -2.9], [2.45, -2.92], [2.8, -3.1], [2.9, -3.2], [2.4, -3.25], [2.52, -3.22], [2.62, -3.15], [2.95, -3.35], [3.0, -3.5], [3.05, -3.53], [2.75, -3.35],
  [1.82, -10.37], [1.87, -10.6], [1.93, -10.88], [2.0, -10.95], [2.1, -11.05], [2.2, -11.2], [2.3, -11.3], [2.4, -11.42], [2.52, -11.56], [2.58, -11.68], [2.65, -11.8], [2.66, -11.95], [2.62, -12.05], [2.5, -12.1], [2.4, -12.15], [2.3, -12.1], [2.25, -11.95], [2.45, -11.95], [2.55, -12.15], [2.42, -12.0],
  [1.79, -6.31], [1.85, -6.33],
  [-2.5, -0.72], [-2.42, -0.68], [-0.2, -0.35], [-0.15, -0.32],
  // single cells sitting on top of the other samples
  [-3.45, 6.75], [-2.93, 6.7], [-2.45, 7.78], [-1.92, 6.6], [-2.15, 6.22], [-6.85, 2.78], [-5.75, 0.05], [-5.55, 0.02], [-8.72, -2.95], [-8.75, -3.78], [-8.28, -7.35], [-8.3, -7.9], [-8.3, -8.0], [-7.9, -7.98],
  [-2.49, -6.72], [-2.29, -6.66], [0.27, -12.12], [0.4, -12.95], [1.15, -13.62], [-0.5, -13.22], [10.45, 3.7], [8.02, -3.47], [8.22, -3.62], [9.83, -5.2],
];

const toXY = (pts: Pt[]) => pts.map(([x, y]) => ({ x, y }));

const dot = (color: string, r: number, opacity: number) => (p: any) => (
  <circle cx={p.cx} cy={p.cy} r={r} fill={color} fillOpacity={opacity} />
);

function SampleLegend() {
  return (
    <div style={{ position: 'absolute', left: 993, top: 318, fontSize: 23.8, color: '#000' }}>
      {sampleNames.map((name, i) => (
        <div key={name} style={{ display: 'flex', alignItems: 'center', height: 60.5, whiteSpace: 'nowrap' }}>
          <span style={{ width: 49, height: 49, borderRadius: '50%', background: COLORS[i], marginRight: 20, flexShrink: 0 }} />
          {name}
        </div>
      ))}
    </div>
  );
}

export default function App() {
  const font = '"Liberation Sans", Arial, sans-serif';
  return (
    <div style={{ position: 'absolute', left: 0, top: 0, width: 1344, height: 960, overflow: 'hidden', background: '#fff', fontFamily: font }}>
      <div style={{ position: 'absolute', left: 96, top: 8, fontSize: 35.5, color: '#000', whiteSpace: 'nowrap' }}>
        UMAP, lineage markers only, coloured by sample
      </div>
      <ScatterChart width={1344} height={960} margin={{ top: 62, right: 401, bottom: 0, left: 0 }}>
        <CartesianGrid horizontalValues={yMinor} verticalValues={xMinor} stroke="#ebebeb" strokeWidth={1.2} />
        <CartesianGrid horizontalValues={yTicks} verticalValues={xTicks} stroke="#e6e6e6" strokeWidth={2.6} />
        <XAxis
          type="number"
          dataKey="x"
          domain={X_DOMAIN}
          ticks={xTicks}
          height={86}
          allowDataOverflow
          tick={{ fontSize: 22.4, fill: '#4d4d4d', fontFamily: font }}
          tickSize={6}
          tickMargin={3}
          tickLine={{ stroke: '#333', strokeWidth: 1 }}
          axisLine={{ stroke: '#333', strokeWidth: 1 }}
          label={{ value: 'UMAP1_lineage', position: 'insideTop', offset: 45, fontSize: 29.3, fill: '#000', fontFamily: font }}
        />
        <YAxis
          type="number"
          dataKey="y"
          domain={Y_DOMAIN}
          ticks={yTicks}
          width={97}
          allowDataOverflow
          tick={{ fontSize: 22.4, fill: '#4d4d4d', fontFamily: font }}
          tickSize={6}
          tickMargin={8}
          tickLine={{ stroke: '#333', strokeWidth: 1 }}
          axisLine={{ stroke: '#333', strokeWidth: 1 }}
          label={{ value: 'UMAP2_lineage', angle: -90, position: 'insideLeft', offset: 26, fontSize: 29.3, fill: '#000', fontFamily: font, style: { textAnchor: 'middle' } }}
        />
        <Scatter data={toXY(pfa2Arms)} shape={dot(COLORS[0], 4.5, 1)} isAnimationActive={false} />
        <Scatter data={toXY(pfa2Points)} shape={dot(COLORS[0], 3, 0.6)} isAnimationActive={false} />
        <Scatter data={toXY(pfa8Arms)} shape={dot(COLORS[3], 4.5, 0.8)} isAnimationActive={false} />
        <Scatter data={toXY(pfa8Points)} shape={dot(COLORS[3], 3, 0.65)} isAnimationActive={false} />
        <Scatter data={toXY(noPermCore)} shape={dot(COLORS[2], 7.5, 1)} isAnimationActive={false} />
        <Scatter data={toXY(noPermArms)} shape={dot(COLORS[2], 5, 1)} isAnimationActive={false} />
        <Scatter data={toXY(noPermPoints)} shape={dot(COLORS[2], 3, 0.65)} isAnimationActive={false} />
        <Scatter data={toXY(pfa4Core)} shape={dot(COLORS[1], 7.5, 1)} isAnimationActive={false} />
        <Scatter data={toXY(pfa4Arms)} shape={dot(COLORS[1], 5, 1)} isAnimationActive={false} />
        <Scatter data={toXY(pfa4Points)} shape={dot(COLORS[1], 3, 0.7)} isAnimationActive={false} />
        <Scatter data={toXY(glutCore)} shape={dot(COLORS[4], 7.5, 1)} isAnimationActive={false} />
        <Scatter data={toXY(glutArms)} shape={dot(COLORS[4], 5, 1)} isAnimationActive={false} />
        <Scatter data={toXY(glutPoints)} shape={dot(COLORS[4], 3, 0.7)} isAnimationActive={false} />
        <ReferenceArea x1={X_DOMAIN[0]} x2={X_DOMAIN[1]} y1={Y_DOMAIN[0]} y2={Y_DOMAIN[1]} fill="none" stroke="#333" strokeWidth={1} ifOverflow="visible" />
      </ScatterChart>
      <SampleLegend />
    </div>
  );
}
